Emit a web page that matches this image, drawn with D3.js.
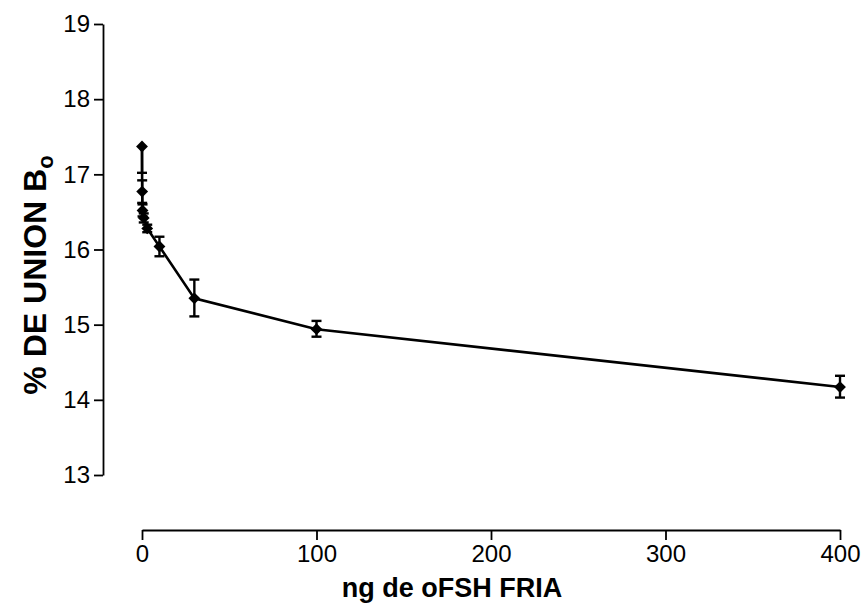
<!DOCTYPE html>
<html><head><meta charset="utf-8">
<script src="https://cdn.jsdelivr.net/npm/d3@7/dist/d3.min.js"></script>
<style>body{margin:0;background:#fff}svg{display:block}</style>
</head><body>
<svg id="c" width="861" height="605"></svg>
<script>
const doses = [0, 0.1, 0.3, 1, 3, 10, 30, 100, 400];
const binding = [17.37, 16.77, 16.52, 16.42, 16.28, 16.04, 15.35, 14.94, 14.17];
const errUp = [0, 0.15, 0.08, 0.06, 0.05, 0.13, 0.25, 0.11, 0.15];
const errDown = [0.35, 0.15, 0.08, 0.06, 0.05, 0.13, 0.24, 0.10, 0.14];
const xTicks = [0, 100, 200, 300, 400];
const yTicks = [13, 14, 15, 16, 17, 18, 19];

const svg = d3.select("#c");
const font = "Arial, 'Liberation Sans', Helvetica, sans-serif";
const x = d3.scaleLinear().domain([0, 400]).range([142, 840]);
const y = d3.scaleLinear().domain([13, 19]).range([475, 24]);
const yAxisX = 103, xAxisY = 530;

const yAx = svg.append("g").attr("transform", `translate(${yAxisX},0)`)
  .call(d3.axisLeft(y).tickValues(yTicks).tickFormat(d3.format("d")).tickSize(9).tickSizeOuter(0).tickPadding(4));
const xAx = svg.append("g").attr("transform", `translate(0,${xAxisY})`)
  .call(d3.axisBottom(x).tickValues(xTicks).tickFormat(d3.format("d")).tickSize(10).tickSizeOuter(0).tickPadding(5));
[yAx, xAx].forEach(g => {
  g.selectAll("path,line").attr("stroke", "#000").attr("stroke-width", 1.8);
  g.selectAll("text").attr("font-family", font).attr("font-size", 24).attr("fill", "#000");
});

const data = doses.map((d, i) => ({d, v: binding[i], up: errUp[i], dn: errDown[i]}));
const plot = svg.append("g");
plot.append("path").datum(data)
  .attr("fill", "none").attr("stroke", "#000").attr("stroke-width", 2.6)
  .attr("d", d3.line().x(p => x(p.d)).y(p => y(p.v)));

const eb = plot.selectAll(".eb").data(data).join("g");
eb.append("line").attr("x1", p => x(p.d)).attr("x2", p => x(p.d))
  .attr("y1", p => y(p.v + p.up)).attr("y2", p => y(p.v - p.dn))
  .attr("stroke", "#000").attr("stroke-width", 2.4);
eb.filter(p => p.up > 0).append("line")
  .attr("x1", p => x(p.d) - 5).attr("x2", p => x(p.d) + 5)
  .attr("y1", p => y(p.v + p.up)).attr("y2", p => y(p.v + p.up))
  .attr("stroke", "#000").attr("stroke-width", 2.4);
eb.filter(p => p.dn > 0).append("line")
  .attr("x1", p => x(p.d) - 5).attr("x2", p => x(p.d) + 5)
  .attr("y1", p => y(p.v - p.dn)).attr("y2", p => y(p.v - p.dn))
  .attr("stroke", "#000").attr("stroke-width", 2.4);

plot.selectAll(".pt").data(data).join("path")
  .attr("transform", p => `translate(${x(p.d)},${y(p.v)}) rotate(45)`)
  .attr("d", d3.symbol(d3.symbolSquare, 70))
  .attr("fill", "#000");

svg.append("text").attr("x", 452).attr("y", 597)
  .attr("text-anchor", "middle").attr("font-family", font)
  .attr("font-weight", "bold").attr("font-size", 27).text("ng de oFSH FRIA");

const yl = svg.append("text").attr("transform", `translate(46,275) rotate(-90)`)
  .attr("text-anchor", "middle").attr("font-family", font)
  .attr("font-weight", "bold").attr("font-size", 32);
yl.append("tspan").text("% DE UNION B");
yl.append("tspan").attr("font-size", 22).attr("dy", 7).text("o");
</script>
</body></html>
